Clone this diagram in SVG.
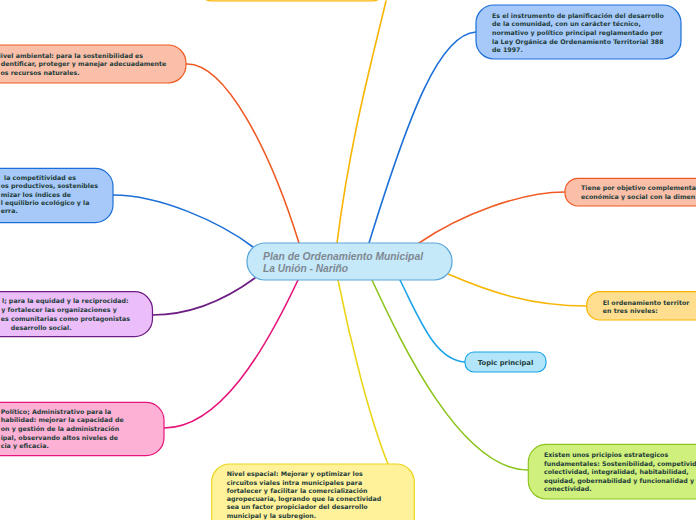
<svg xmlns="http://www.w3.org/2000/svg" width="696" height="520" viewBox="0 0 696 520">
<style>
.t{font-family:"DejaVu Sans","Liberation Sans",sans-serif;font-weight:bold;font-size:6.3px;fill:#1f3d3a}
.c{fill:none;stroke-width:1.6;stroke-linecap:round}
.n{stroke-width:1.2}
.blue{fill:#a6c9f9;stroke:#1c6fd8}
.orange{fill:#f9bfa9;stroke:#f05a24}
.amber{fill:#ffdf8f;stroke:#f8b500}
.purple{fill:#ebbdf9;stroke:#6c1c82}
.pink{fill:#fdb1d4;stroke:#e6157b}
.green{fill:#cff07c;stroke:#8cc51e}
.yellow{fill:#fff29a;stroke:#ebd61c}
.sky{fill:#b3e5fa;stroke:#1ba4ea}
.title{font-family:"Liberation Sans","DejaVu Sans",sans-serif;font-weight:bold;font-style:italic;font-size:11px;fill:#7e8891}
</style>
<rect width="696" height="520" fill="#ffffff"/>
<g id="connectors">
<path class="c" stroke="#f05a24" d="M186,64 C225,62 270,150 299,243"/>
<path class="c" stroke="#f8b500" d="M386,1 C372,60 350,140 337,243"/>
<path class="c" stroke="#1c6fd8" d="M476,32 C440,34 410,110 369,243"/>
<path class="c" stroke="#f05a24" d="M419,243 C460,215 520,192 565,192"/>
<path class="c" stroke="#f8b500" d="M448,274 C490,292 530,306 587,306"/>
<path class="c" stroke="#1ba4ea" d="M400,280 C420,320 435,360 465,362"/>
<path class="c" stroke="#8cc51e" d="M372,280 C400,340 460,470 528,470"/>
<path class="c" stroke="#ebd61c" d="M338,280 C350,340 370,420 388,464"/>
<path class="c" stroke="#e6157b" d="M298,280 C265,350 220,428 164,428"/>
<path class="c" stroke="#6c1c82" d="M255,278 C225,300 190,315 152,315"/>
<path class="c" stroke="#1c6fd8" d="M253,247 C220,222 160,195 113,195"/>
</g>
<g id="node-top">
<rect class="n amber" x="198" y="-40" width="188" height="41" rx="14"/>
</g>
<g id="node-center">
<rect x="247" y="243" width="205" height="37" rx="18" fill="#c6e9fa" stroke="#5aa5da" stroke-width="1.2"/>
<text class="title" x="263" y="260" textLength="160" lengthAdjust="spacingAndGlyphs">Plan de Ordenamiento Municipal</text>
<text class="title" x="263" y="272" textLength="85" lengthAdjust="spacingAndGlyphs">La Unión - Nariño</text>
</g>
<g id="node-instrumento">
<rect class="n blue" x="476" y="5" width="205" height="54" rx="18"/>
<text class="t" x="492" y="17.7">Es el instrumento de planificación del desarrollo</text>
<text class="t" x="492" y="26.3">de la comunidad, con un carácter técnico,</text>
<text class="t" x="492" y="35">normativo y político principal reglamentado por</text>
<text class="t" x="492" y="43.7">la Ley Orgánica de Ordenamiento Territorial 388</text>
<text class="t" x="492" y="52.3">de 1997.</text>
</g>
<g id="node-ambiental">
<rect class="n orange" x="-30" y="45" width="216" height="38" rx="18"/>
<text class="t" x="-4.5" y="57.7">Nivel ambiental: para la sostenibilidad es</text>
<text class="t" x="0.7" y="66.3">dentificar, proteger y manejar adecuadamente</text>
<text class="t" x="0.5" y="75">os recursos naturales.</text>
</g>
<g id="node-competitividad">
<rect class="n blue" x="-40" y="168.3" width="153" height="54.4" rx="18"/>
<text class="t" x="4" y="180">la competitividad es</text>
<text class="t" x="0.7" y="188.3">os productivos, sostenibles</text>
<text class="t" x="0.7" y="196.7">mizar los índices de</text>
<text class="t" x="0.7" y="205.3">l equilibrio ecológico y la</text>
<text class="t" x="0.7" y="213.3">erra.</text>
</g>
<g id="node-social">
<rect class="n purple" x="-40" y="291.7" width="192.5" height="45" rx="18"/>
<text class="t" x="2" y="303.3">l; para la equidad y la reciprocidad:</text>
<text class="t" x="1.3" y="312.3">y fortalecer las organizaciones y</text>
<text class="t" x="0.7" y="321">es comunitarias como protagonistas</text>
<text class="t" x="10.7" y="330">desarrollo social.</text>
</g>
<g id="node-politico">
<rect class="n pink" x="-40" y="402.3" width="204" height="53.4" rx="18"/>
<text class="t" x="0.7" y="414">Político; Administrativo para la</text>
<text class="t" x="0.7" y="422.3">habilidad: mejorar la capacidad de</text>
<text class="t" x="0.7" y="431.3">on y gestión de la administración</text>
<text class="t" x="0.7" y="440">ipal, observando altos niveles de</text>
<text class="t" x="0.7" y="448.3">cia y eficacia.</text>
</g>
<g id="node-objetivo">
<rect class="n orange" x="565" y="178.3" width="170" height="27.7" rx="13"/>
<text class="t" x="581" y="190">Tiene por objetivo complementa</text>
<text class="t" x="581" y="199">económica y social con la dimen</text>
</g>
<g id="node-territorial">
<rect class="n amber" x="586.7" y="291.7" width="150" height="28.3" rx="13"/>
<text class="t" x="602.7" y="305">El ordenamiento territor</text>
<text class="t" x="602.7" y="313.3">en tres niveles:</text>
</g>
<g id="node-topic">
<rect class="n sky" x="465" y="352" width="81" height="20" rx="9"/>
<text class="t" x="505.5" y="365" text-anchor="middle" style="font-size:6.8px">Topic principal</text>
</g>
<g id="node-principios">
<rect class="n green" x="528.3" y="444.3" width="200" height="54.7" rx="18"/>
<text class="t" x="544" y="457.3">Existen unos pricipios estrategicos</text>
<text class="t" x="544" y="465.7">fundamentales: Sostenibilidad, competividad,</text>
<text class="t" x="544" y="474">colectividad, integralidad, habitabilidad,</text>
<text class="t" x="544" y="482.7">equidad, gobernabilidad y funcionalidad y</text>
<text class="t" x="544" y="491">conectividad.</text>
</g>
<g id="node-espacial">
<rect class="n yellow" x="211.7" y="464" width="202.6" height="80" rx="18"/>
<text class="t" x="226.7" y="476.3">Nivel espacial: Mejorar y optimizar los</text>
<text class="t" x="226.7" y="484.7">circuitos viales intra municipales para</text>
<text class="t" x="226.7" y="492.7">fortalecer y facilitar la comercialización</text>
<text class="t" x="226.7" y="501.3">agropecuaria, logrando que la conectividad</text>
<text class="t" x="226.7" y="509.3">sea un factor propiciador del desarrollo</text>
<text class="t" x="226.7" y="518">municipal y la subregion.</text>
</g>
</svg>
